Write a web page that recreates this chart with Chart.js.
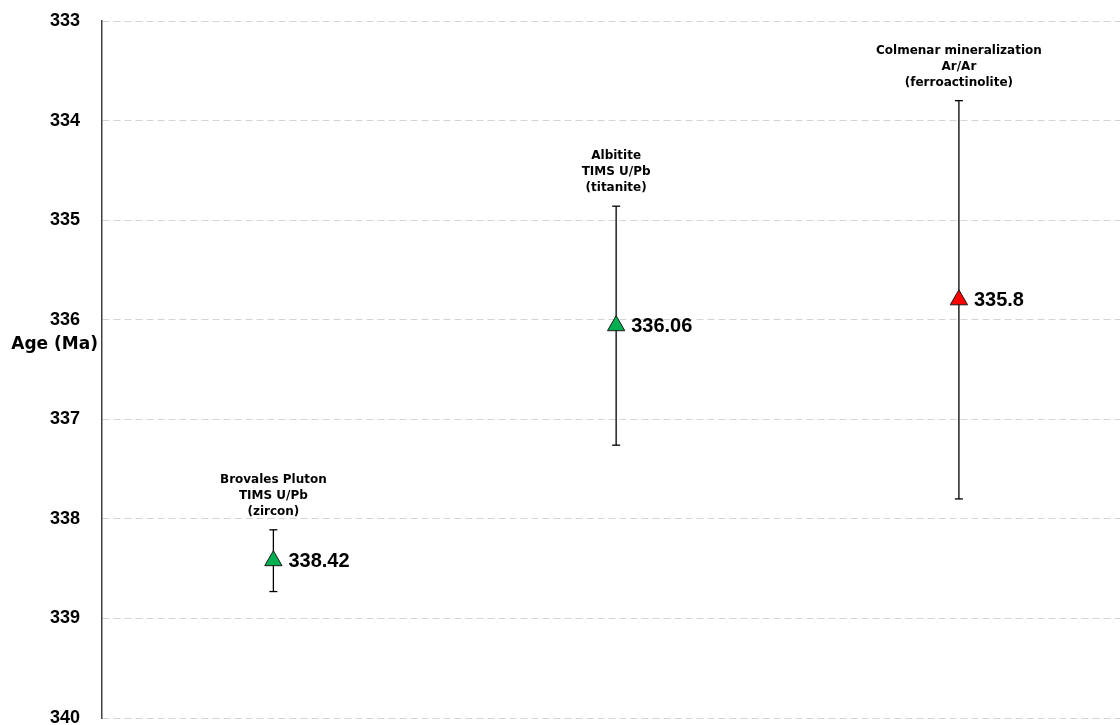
<!DOCTYPE html>
<html>
<head>
<meta charset="utf-8">
<script src="https://cdn.jsdelivr.net/npm/chart.js@4"></script>
<style>
  html, body { margin: 0; padding: 0; background: #fff; }
  #wrap { width: 1120px; height: 725px; }
</style>
</head>
<body>
<div id="wrap"><canvas id="ageChart"></canvas></div>
<script>
// samples (x position), ages and 2-sigma errors in Ma
const samplePos = [1, 2, 3];
const ages = [338.42, 336.06, 335.8];
const ageErrors = [0.31, 1.2, 2.0];
const sampleNames = [
    ["Brovales Pluton", "TIMS U/Pb", "(zircon)"],
    ["Albitite", "TIMS U/Pb", "(titanite)"],
    ["Colmenar mineralization", "Ar/Ar", "(ferroactinolite)"]
];
const markerColors = ["#00b050", "#00b050", "#ff0000"];
const ageTicks = [333, 334, 335, 336, 337, 338, 339, 340];

// one small line dataset per error bar
const errorSets = samplePos.map((x, i) => ({
    type: "line",
    data: [{ x: x, y: ages[i] - ageErrors[i] }, { x: x, y: ages[i] + ageErrors[i] }],
    borderColor: "#000",
    borderWidth: 1.3,
    pointStyle: "line",
    pointRadius: 4,
    pointBorderColor: "#000",
    pointBorderWidth: 1.3,
    showLine: true,
    order: 2
}));

const labelPlugin = {
    id: "labels",
    afterDatasetsDraw(chart) {
        const ctx = chart.ctx;
        const yScale = chart.scales.y;
        const meta = chart.getDatasetMeta(0);
        ctx.save();
        meta.data.forEach((pt, i) => {
            // value next to marker
            ctx.font = "bold 20px 'Liberation Sans', Arial, sans-serif";
            ctx.fillStyle = "#000";
            ctx.textAlign = "left";
            ctx.textBaseline = "middle";
            ctx.fillText(String(ages[i]), pt.x + 15, pt.y + 1);

            // sample name above error bar
            const topY = yScale.getPixelForValue(ages[i] - ageErrors[i]);
            const lines = sampleNames[i];
            ctx.font = "bold 12px 'DejaVu Sans', Verdana, sans-serif";
            ctx.textAlign = "center";
            lines.forEach((txt, k) => {
                const y = topY - 18 - (lines.length - 1 - k) * 16;
                ctx.fillText(txt, pt.x, y);
            });
        });
        // axis title, horizontal
        ctx.font = "bold 17px 'DejaVu Sans', Verdana, sans-serif";
        ctx.textAlign = "right";
        ctx.textBaseline = "middle";
        ctx.fillText("Age (Ma)", 98, 345);
        ctx.restore();
    }
};

new Chart(document.getElementById("ageChart"), {
    type: "scatter",
    data: {
        datasets: [{
            data: samplePos.map((x, i) => ({ x: x, y: ages[i] })),
            pointStyle: "triangle",
            pointRadius: 10,
            pointHoverRadius: 10,
            pointBackgroundColor: markerColors,
            pointBorderColor: "#1a1a1a",
            pointBorderWidth: 1,
            order: 0
        }].concat(errorSets)
    },
    options: {
        responsive: true,
        maintainAspectRatio: false,
        animation: false,
        layout: { autoPadding: false, padding: { top: 21, bottom: 7, left: 0, right: 0 } },
        plugins: {
            legend: { display: false },
            tooltip: { enabled: false }
        },
        scales: {
            x: {
                type: "linear",
                min: 0.5,
                max: 3.47,
                display: false
            },
            y: {
                reverse: true,
                min: ageTicks[0],
                max: ageTicks[ageTicks.length - 1],
                afterBuildTicks: (scale) => { scale.ticks = ageTicks.map(v => ({ value: v })); },
                afterFit: (scale) => {
                    scale.width = 102;
                    scale.paddingTop = 0;
                    scale.paddingBottom = 0;
                },
                ticks: {
                    padding: 22,
                    color: "#000",
                    font: { family: "'Liberation Sans', Arial, sans-serif", size: 18, weight: "bold" }
                },
                grid: {
                    color: "#d4d4d4",
                    lineWidth: 1,
                    drawTicks: false
                },
                border: {
                    display: true,
                    color: "#404040",
                    width: 1.5,
                    dash: [7, 4]
                }
            }
        }
    },
    plugins: [labelPlugin]
});
</script>
</body>
</html>
